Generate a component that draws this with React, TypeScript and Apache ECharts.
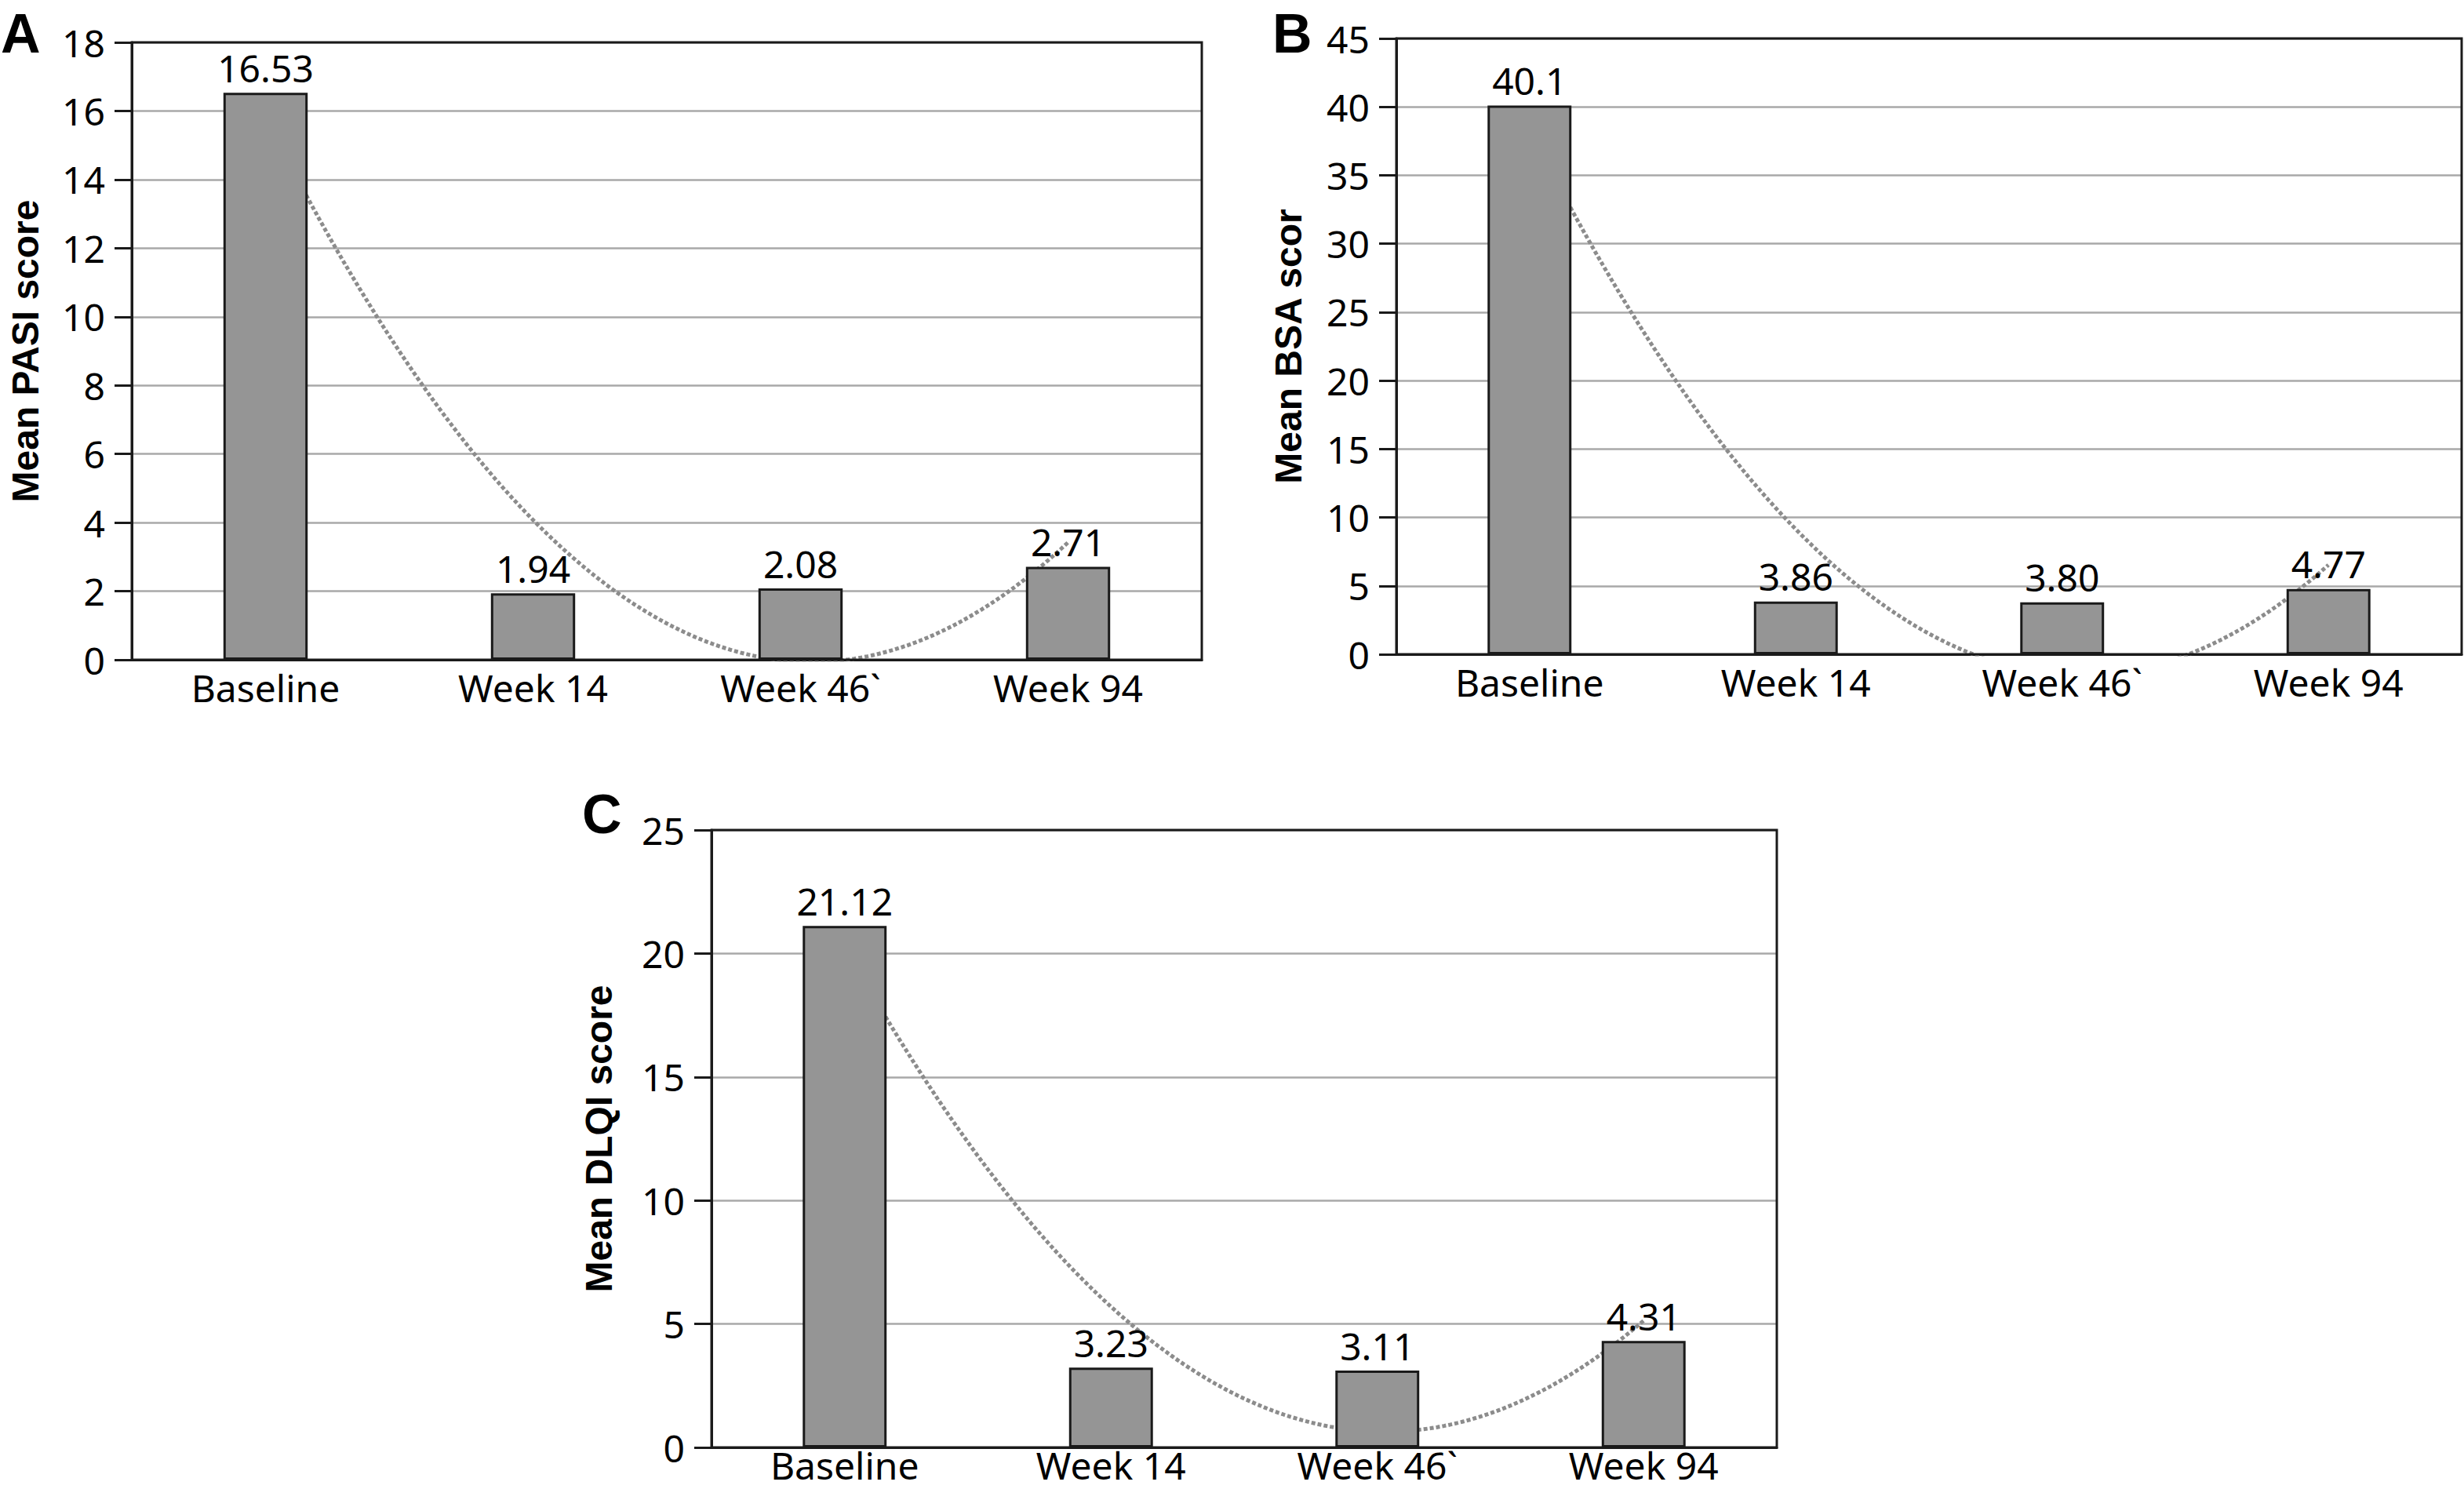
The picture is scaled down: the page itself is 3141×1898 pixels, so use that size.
import React, { useEffect, useRef } from "react";
import * as echarts from "echarts";

// ---------- data ----------
const categories = ["Baseline", "Week 14", "Week 46`", "Week 94"];

const pasiValues = [16.53, 1.94, 2.08, 2.71];
const pasiLabels = ["16.53", "1.94", "2.08", "2.71"];
const pasiAxis = [0, 18, 2]; // min, max, interval

const bsaValues = [40.1, 3.86, 3.8, 4.77];
const bsaLabels = ["40.1", "3.86", "3.80", "4.77"];
const bsaAxis = [0, 45, 5];

const dlqiValues = [21.12, 3.23, 3.11, 4.31];
const dlqiLabels = ["21.12", "3.23", "3.11", "4.31"];
const dlqiAxis = [0, 25, 5];

const panelLetters = ["A", "B", "C"];
const axisNames = ["Mean PASI score", "Mean BSA scor", "Mean DLQI score"];

// ---------- helpers ----------
// Second-order polynomial trendline (least squares), as drawn by the source chart
function quadTrend(ys: number[]): number[][] {
  const xs = ys.map((_, i) => i + 1);
  const S = [0, 0, 0, 0, 0];
  const T = [0, 0, 0];
  xs.forEach((x, i) => {
    for (let k = 0; k < 5; k++) S[k] += Math.pow(x, k);
    for (let k = 0; k < 3; k++) T[k] += ys[i] * Math.pow(x, k);
  });
  const M = [
    [S[0], S[1], S[2], T[0]],
    [S[1], S[2], S[3], T[1]],
    [S[2], S[3], S[4], T[2]],
  ];
  for (let c = 0; c < 3; c++) {
    for (let r = c + 1; r < 3; r++) {
      const f = M[r][c] / M[c][c];
      for (let k = c; k < 4; k++) M[r][k] -= f * M[c][k];
    }
  }
  const coef = [0, 0, 0];
  for (let r = 2; r >= 0; r--) {
    let s = M[r][3];
    for (let k = r + 1; k < 3; k++) s -= M[r][k] * coef[k];
    coef[r] = s / M[r][r];
  }
  const pts: number[][] = [];
  const steps = 120;
  for (let i = 0; i <= steps; i++) {
    const x = 1 + (3 * i) / steps;
    pts.push([x, coef[0] + coef[1] * x + coef[2] * x * x]);
  }
  return pts;
}

const FONT = "'Noto Sans', 'Open Sans', sans-serif";
const BOLD_FONT = "'Liberation Sans', Arial, sans-serif";
const BLACK = "#1a1a1a";

type Panel = {
  values: number[];
  labels: string[];
  axis: number[];
  name: string;
  grid: { left: number; right: number; top: number; height: number };
  nameGap: number;
  labelMargin: number;
};

const panels: Panel[] = [
  { values: pasiValues, labels: pasiLabels, axis: pasiAxis, name: axisNames[0], grid: { left: 168, right: 1609, top: 54, height: 787 }, nameGap: 114, labelMargin: 11 },
  { values: bsaValues, labels: bsaLabels, axis: bsaAxis, name: axisNames[1], grid: { left: 1780, right: 3, top: 49, height: 785 }, nameGap: 116, labelMargin: 11 },
  { values: dlqiValues, labels: dlqiLabels, axis: dlqiAxis, name: axisNames[2], grid: { left: 907, right: 876, top: 1058, height: 787 }, nameGap: 122, labelMargin: -2 },
];

function buildOption() {
  const grid: any[] = [];
  const xAxis: any[] = [];
  const yAxis: any[] = [];
  const series: any[] = [];

  panels.forEach((p, i) => {
    grid.push({
      ...p.grid,
      show: true,
      borderColor: BLACK,
      borderWidth: 3,
      backgroundColor: "transparent",
      z: 5,
    });
    xAxis.push({
      gridIndex: i,
      type: "category",
      data: categories,
      axisLine: { show: true, lineStyle: { color: BLACK, width: 3 } },
      axisTick: { show: false },
      axisLabel: { margin: p.labelMargin, fontSize: 48, lineHeight: 48, color: "#000", fontFamily: FONT },
      splitLine: { show: false },
    });
    xAxis.push({
      gridIndex: i,
      type: "value",
      min: 0.5,
      max: 4.5,
      show: false,
    });
    yAxis.push({
      gridIndex: i,
      type: "value",
      min: p.axis[0],
      max: p.axis[1],
      interval: p.axis[2],
      axisLine: { show: true, lineStyle: { color: BLACK, width: 3 } },
      axisTick: { show: true, length: 22, lineStyle: { color: BLACK, width: 3 } },
      axisLabel: { margin: 34, fontSize: 48, color: "#000", fontFamily: FONT },
      splitLine: { show: true, lineStyle: { color: "#a9a9a9", width: 2.5 } },
      name: p.name,
      nameLocation: "middle",
      nameGap: p.nameGap,
      nameTextStyle: { fontSize: 48, lineHeight: 44, fontWeight: "bold", color: "#000", fontFamily: BOLD_FONT },
    });
    series.push({
      type: "line",
      name: "Trend " + p.name,
      xAxisIndex: i * 2 + 1,
      yAxisIndex: i,
      data: quadTrend(p.values),
      symbol: "none",
      smooth: false,
      clip: true,
      z: 1,
      lineStyle: { color: "#8c8c8c", width: 5, type: [5, 3] },
      silent: true,
    });
    series.push({
      type: "bar",
      name: p.name,
      xAxisIndex: i * 2,
      yAxisIndex: i,
      data: p.values,
      barWidth: "31.5%",
      z: 2,
      itemStyle: { color: "#959595", borderColor: BLACK, borderWidth: 3 },
      label: {
        show: true,
        position: "top",
        distance: 8,
        fontSize: 48,
        lineHeight: 48,
        color: "#000",
        fontFamily: FONT,
        formatter: (prm: any) => p.labels[prm.dataIndex],
      },
    });
  });

  const letterPos = [
    [1, 38],
    [1622, 38],
    [742, 1033],
  ];
  const graphic = panelLetters.map((t, i) => ({
    type: "text",
    left: letterPos[i][0],
    top: letterPos[i][1] - 30,
    style: {
      text: t,
      fontSize: 70,
      lineHeight: 60,
      fontWeight: "bold",
      fontFamily: BOLD_FONT,
      fill: "#000",
    },
  }));

  return { animation: false, backgroundColor: "#fff", grid, xAxis, yAxis, series, graphic };
}

export default function App() {
  const ref = useRef<HTMLDivElement>(null);
  useEffect(() => {
    document.body.style.margin = "0";
    const chart = echarts.init(ref.current!, undefined, { renderer: "svg" });
    chart.setOption(buildOption() as any);
    return () => chart.dispose();
  }, []);
  return (
    <div
      ref={ref}
      style={{ position: "fixed", left: 0, top: 0, width: 3141, height: 1898, background: "#fff" }}
    />
  );
}
